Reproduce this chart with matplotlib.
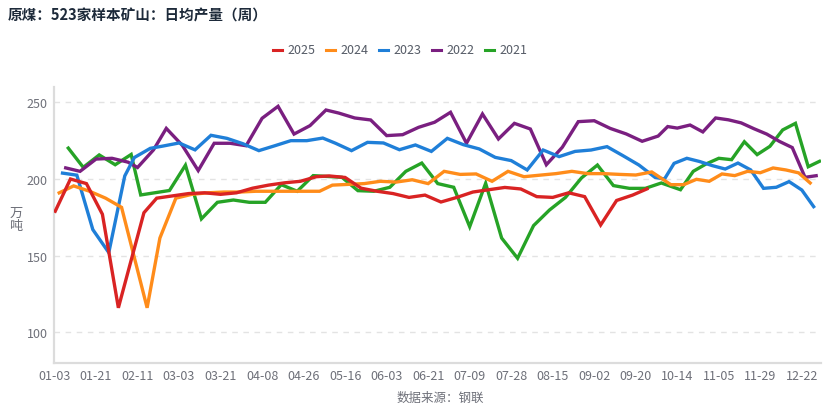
import matplotlib
matplotlib.use("Agg")
import matplotlib.pyplot as plt
import pandas as pd
from matplotlib.lines import Line2D

plt.rcParams['font.family'] = ['Noto Sans CJK SC', 'DejaVu Sans']

# ---------------- data ----------------
years = ["2025", "2024", "2023", "2022", "2021"]
colors = ["#d92323", "#ff8c1a", "#1f7fd8", "#7a1f80", "#26a326"]

# weekly (Friday) release dates; weeks with no release
last_date = {"2025": "2025-09-26", "2024": "2024-12-27", "2023": "2023-12-29",
             "2022": "2022-12-30", "2021": "2021-12-31"}
first_date = {"2025": "2025-01-03", "2024": "2024-01-05", "2023": "2023-01-06",
              "2022": "2022-01-07", "2021": "2021-01-08"}
missing_dates = ["2025-02-07", "2024-02-09", "2021-02-19", "2021-05-07",
                 "2024-10-04", "2021-10-08"]

v2025 = [178, 200, 197, 177, 116, 178, 187.5, 189, 190.5, 191, 190, 191,
         194, 196, 197.5, 198.5, 201.5, 202, 201, 194, 192, 190.5, 188, 189.5,
         185, 188, 191.5, 193, 194.5, 193.5, 188.5, 188, 191, 188.5, 170, 186,
         189.5, 194]
v2024 = [190.5, 195.5, 192, 187.5, 181.5, 116, 161.5, 187.5, 190, 191, 191.5,
         191.5, 192, 192, 192, 192, 192, 196, 196.5, 197, 198.5, 198, 199.5,
         197, 205, 203, 203.3, 198.5, 205, 201.5, 202.5, 203.5, 205, 203.5,
         203.5, 203, 202.6, 204.6, 196.3, 196.3, 199.8, 198.5, 203.3, 202.2,
         205, 204.1, 207.2, 205.9, 204, 196.7]
v2023 = [204, 202.5, 167, 152, 202, 214, 220, 221.5, 223.5, 219, 228.5, 226.5,
         223, 218.5, 221.7, 225, 225, 226.7, 223.3, 218.5, 223.9, 223.5, 219.1,
         222.2, 218, 226.5, 222.4, 219.6, 214.1, 212, 205.9, 218.9, 214.6, 218,
         218.9, 221.1, 215.2, 209.1, 201.1, 200, 210.2, 213.5, 211.4, 208.7,
         206.5, 210.4, 205.9, 193.9, 194.6, 198.3, 192.8, 181.1]
v2022 = [207.5, 205, 213, 213.5, 211, 207.5, 219, 233, 222, 205.5, 223.3,
         223.3, 221.7, 239.6, 247.4, 229.3, 234.8, 245, 243, 239.8, 238.5,
         228.3, 228.9, 233.7, 237, 243.5, 223.3, 242.4, 226.1, 236.3, 232.6,
         209.3, 220.7, 237.4, 238, 233, 229.4, 224.6, 228, 234.2, 233.2, 235.2,
         230.7, 239.8, 238.6, 236.6, 232.8, 229.3, 224.5, 220.5, 201.1, 202.3]
v2021 = [221, 207.6, 215.7, 209.3, 216, 189.6, 192.5, 209, 174, 184.8, 186.3,
         184.8, 184.8, 196.3, 192, 202.2, 201.1, 192.4, 192, 194.6, 205, 210.4,
         197, 194.6, 168.9, 197.2, 161.5, 148.3, 169.6, 179.8, 188, 200.7,
         209.1, 195.7, 193.9, 193.9, 197.4, 193, 205, 209.8, 213.5, 212.6,
         224.3, 215.9, 221.3, 232, 236.3, 208, 212]
values = {"2025": v2025, "2024": v2024, "2023": v2023, "2022": v2022, "2021": v2021}

yticks = [100, 150, 200, 250]
title = "原煤：523家样本矿山：日均产量（周）"
ylabel = "万\n吨"
source = "数据来源：钢联"

# ---------------- category axis (union of month-day dates) ----------------
missing = set(pd.to_datetime(missing_dates))
series_dates = {}
for y in years:
    d = pd.date_range(first_date[y], last_date[y], freq="7D")
    d = [x for x in d if x not in missing]
    series_dates[y] = [x.strftime("%m-%d") for x in d]
categories = sorted(set(sum(series_dates.values(), [])))
cat_idx = {c: i for i, c in enumerate(categories)}

# ---------------- figure ----------------
W, H = 829, 410
fig = plt.figure(figsize=(W / 100, H / 100), dpi=100)
ax = fig.add_axes([54.5 / W, (H - 364) / H, (821 - 54.5) / W, (364 - 88) / H])

n = len(years)
for k, y in enumerate(years):
    xs = [cat_idx[c] for c in series_dates[y]]
    ax.plot(xs, values[y], color=colors[k], lw=2.4, zorder=10 + n - k,
            solid_joinstyle="miter", solid_capstyle="butt")

ax.set_xlim(0, len(categories) - 1)
ax.set_ylim(80, 260)
ax.set_yticks(yticks)
ax.set_yticklabels([str(t) for t in yticks])
tick_pos = list(range(0, len(categories), 13))
ax.set_xticks(tick_pos)
ax.set_xticklabels([categories[i] for i in tick_pos])

for t in yticks:
    ax.axhline(t, color="#e3e3e3", lw=1.0, ls=(0, (4, 4)), zorder=1)

for s in ["top", "right"]:
    ax.spines[s].set_visible(False)
for s in ["left", "bottom"]:
    ax.spines[s].set_color("#dcdcdc")
    ax.spines[s].set_linewidth(1.6)
ax.tick_params(axis="x", length=0, pad=4, labelsize=9, labelcolor="#6e7079")
ax.tick_params(axis="y", length=0, pad=5, labelsize=9, labelcolor="#6e7079")

# title
fig.text(8 / W, 1 - 16 / H, title, fontsize=10.5, fontweight="bold",
         color="#1d2a3a", ha="left", va="center")

# legend (manual, centred at top)
for k, y in enumerate(years):
    x0 = 273 + 53 * k
    fig.add_artist(Line2D([x0 / W, (x0 + 9) / W], [1 - 51 / H, 1 - 51 / H],
                          color=colors[k], lw=2.2, transform=fig.transFigure))
    fig.text((x0 + 14) / W, 1 - 51 / H, y, fontsize=9, color="#555b66",
             ha="left", va="center")

# y unit label
fig.text(16 / W, 1 - 220 / H, ylabel, fontsize=9.5, color="#6e7079",
         ha="center", va="center", linespacing=1.05)

# source
fig.text(440 / W, 1 - 398 / H, source, fontsize=9, color="#6e7079",
         ha="center", va="center")

fig.savefig("out.png", dpi=100)
